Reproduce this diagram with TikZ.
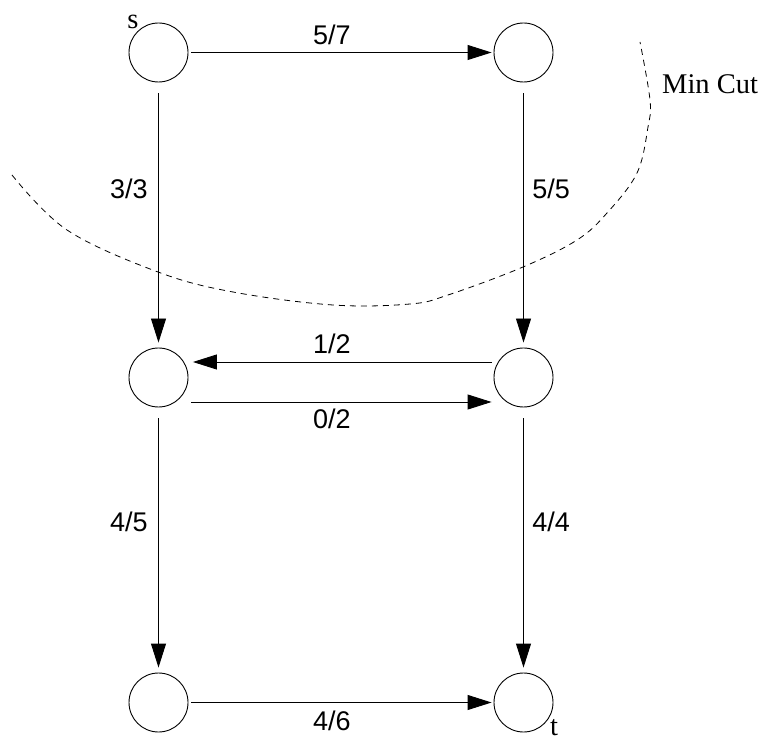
\documentclass[tikz,border=0pt]{standalone}
\usepackage{fontspec}
\setmainfont{Liberation Serif}
\newfontfamily\labelfont{Liberation Sans}
\usetikzlibrary{arrows.meta,positioning}

\begin{document}
\begin{tikzpicture}[x=1pt, y=1pt]

    % 样式
    \tikzset{
        vertex/.style={circle, draw=black, line width=0.9pt, minimum size=59pt, inner sep=0pt},
        flow/.style={line width=0.9pt, -{Triangle[length=24pt, width=15pt]}},
        hflow/.style={flow, shorten <=3pt, shorten >=2pt},
        vflow/.style={flow, shorten <=11pt, shorten >=5pt},
        weight/.style={font=\labelfont\fontsize{27}{30}\selectfont, inner sep=0pt},
        tag/.style={font=\fontsize{28.5}{32}\selectfont, inner sep=0pt}
    }
    \useasboundingbox (0, 0) rectangle (765, 742);

    % 顶点
    \node[vertex] (s) at (158.5, 689.5) {};
    \node[vertex] (a) at (523.5, 689.5) {};
    \node[vertex] (b) at (158.5, 364.5) {};
    \node[vertex] (c) at (523.5, 364.5) {};
    \node[vertex] (d) at (158.5, 39.5) {};
    \node[vertex] (t) at (523.5, 39.5) {};

    % 边 (流量/容量)
    \draw[hflow] (s) -- node[weight, pos=0.47, above=7.5pt] {5/7} (a);
    \draw[vflow] (s) -- node[weight, pos=0.40, left=10.5pt] {3/3} (b);
    \draw[vflow] (a) -- node[weight, pos=0.40, right=8.5pt] {5/5} (c);
    \draw[hflow, shorten <=1.5pt, shorten >=4.5pt] ([yshift=15.5pt]c.west) -- node[weight, pos=0.53, above=8pt] {1/2} ([yshift=15.5pt]b.east);
    \draw[hflow] ([yshift=-24.5pt]b.east) -- node[weight, pos=0.47, below=6pt] {0/2} ([yshift=-24.5pt]c.west);
    \draw[vflow] (b) -- node[weight, pos=0.43, left=10.5pt] {4/5} (d);
    \draw[vflow] (c) -- node[weight, pos=0.43, right=8.5pt] {4/4} (t);
    \draw[hflow] (d) -- node[weight, pos=0.47, below=8pt] {4/6} (t);

    % 最小割
    \draw[line width=0.8pt, dash pattern=on 6pt off 5pt] plot[smooth, tension=0.6] coordinates {
        (12, 567) (67, 512) (158, 470) (233, 450) (333, 437) (410, 438) (448, 447)
        (523, 475) (577, 502) (607, 529) (637, 569) (648, 615) (650, 642) (640, 700)};

    % 标签
    \node[tag, anchor=base west] (cutlbl) at (662, 648) {Min Cut};
    \node[tag, anchor=base] (slbl) at ([shift={(-25.5,23.5)}]s.center) {s};
    \node[tag, anchor=base] (tlbl) at ([shift={(30.5,-33)}]t.center) {t};

\end{tikzpicture}
\end{document}
